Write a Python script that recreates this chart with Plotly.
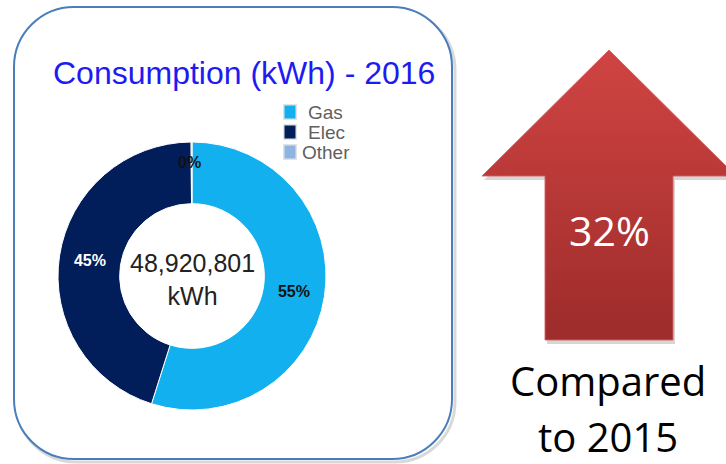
import math
import plotly.graph_objects as go

# ---- data ----
labels = ["Gas", "Elec", "Other"]
values = [26850000, 22020000, 50801]
slice_colors = ["#12b0ee", "#011e5b", "#8eb4e3"]
text_colors = ["#111111", "#ffffff", "#111111"]
title_text = "Consumption (kWh) - 2016"
unit = "kWh"
change_pct = "32%"
change_caption = ["Compared", "to 2015"]

total = sum(values)
W, H = 726, 464
PIE_CX, PIE_CY, PIE_R, HOLE = 192, 276, 134, 0.54


def rrect(x0, y0, x1, y1, r):
    k = 0.552 * r
    return (f"M {x0+r},{y0} L {x1-r},{y0} C {x1-r+k},{y0} {x1},{y0+r-k} {x1},{y0+r} "
            f"L {x1},{y1-r} C {x1},{y1-r+k} {x1-r+k},{y1} {x1-r},{y1} "
            f"L {x0+r},{y1} C {x0+r-k},{y1} {x0},{y1-r+k} {x0},{y1-r} "
            f"L {x0},{y0+r} C {x0},{y0+r-k} {x0+r-k},{y0} {x0+r},{y0} Z")


fig = go.Figure()

# arrow shadow + arrow (decoration)
ax = [609, 736, 673, 673, 545, 545, 482, 609]
ay = [50, 176, 176, 340, 340, 176, 176, 50]
fig.add_trace(go.Scatter(x=[v + 2 for v in ax], y=[v + 4 for v in ay], fill="toself",
                         fillcolor="rgba(0,0,0,0.16)", line=dict(width=0),
                         mode="lines", hoverinfo="skip", showlegend=False))
fig.add_trace(go.Scatter(x=ax, y=ay, fill="toself",
                         fillgradient=dict(type="vertical",
                                           colorscale=[[0, "#9d2c2a"], [1, "#d04443"]]),
                         line=dict(width=1, color="rgba(215,95,95,0.9)"),
                         mode="lines", hoverinfo="skip", showlegend=False))

# small slices get their label placed by hand along the slice bisector
fracs = [v / total for v in values]
small = [f < 0.02 for f in fracs]
templates = ["" if s else "%{percent:.0%}" for s in small]

fig.add_trace(go.Pie(
    labels=labels, values=values, hole=HOLE, sort=False, direction="clockwise",
    rotation=0,
    marker=dict(colors=slice_colors, line=dict(color="white", width=1)),
    texttemplate=templates, textposition="inside",
    insidetextorientation="horizontal",
    insidetextfont=dict(color=text_colors, size=16, family="Liberation Sans", weight=700),
    domain=dict(x=[(PIE_CX - PIE_R) / W, (PIE_CX + PIE_R) / W],
                y=[1 - (PIE_CY + PIE_R) / H, 1 - (PIE_CY - PIE_R) / H]),
    hoverinfo="skip", showlegend=False,
))

shapes = [
    dict(type="path", path=rrect(16, 10, 455, 462, 60), layer="below",
         line=dict(color="rgba(0,0,0,0.15)", width=3), fillcolor="rgba(0,0,0,0)"),
    dict(type="path", path=rrect(14, 7, 452, 459, 60), layer="below",
         line=dict(color="#4a7ebb", width=2), fillcolor="white"),
]
annotations = [
    dict(x=244, y=73, xref="x", yref="y", text=title_text, showarrow=False,
         font=dict(family="Liberation Sans", size=32, color="rgb(28,28,242)")),
    dict(x=PIE_CX, y=PIE_CY + 3, xref="x", yref="y", text=f"{total:,}<br>{unit}",
         showarrow=False, font=dict(family="Liberation Sans", size=25, color="#222222")),
    dict(x=609, y=230, xref="x", yref="y", text=change_pct, showarrow=False,
         font=dict(family="Open Sans", size=41, color="white")),
    dict(x=608, y=380, xref="x", yref="y", text=change_caption[0], showarrow=False,
         font=dict(family="Open Sans", size=40, color="black")),
    dict(x=608, y=436, xref="x", yref="y", text=change_caption[1], showarrow=False,
         font=dict(family="Open Sans", size=40, color="black")),
]

cum = 0.0
for f, s, tc in zip(fracs, small, text_colors):
    if s:
        ang = 2 * math.pi * (cum + f / 2)
        r = PIE_R * 0.845
        annotations.append(dict(x=PIE_CX + r * math.sin(ang) - 2, y=PIE_CY - r * math.cos(ang),
                                xref="x", yref="y", text=f"{round(f * 100)}%", showarrow=False,
                                font=dict(family="Liberation Sans", size=16, color=tc,
                                          weight=700)))
    cum += f

# legend built from the labels / colours
for i, (lab, col) in enumerate(zip(labels, slice_colors)):
    cy = 112 + 20 * i
    shapes.append(dict(type="rect", x0=283, x1=297, y0=cy - 8, y1=cy + 8,
                       xref="x", yref="y", fillcolor="#e3e3e3", line=dict(width=0)))
    shapes.append(dict(type="rect", x0=284.5, x1=295.5, y0=cy - 6.5, y1=cy + 6.5,
                       xref="x", yref="y", fillcolor=col, line=dict(width=0)))
    annotations.append(dict(x=(300 if len(lab) > 4 else 306), y=cy, xref="x", yref="y",
                            text=lab, showarrow=False, xanchor="left",
                            font=dict(family="Liberation Sans", size=19, color="#5f5f5f")))

fig.update_layout(
    width=W, height=H, margin=dict(l=0, r=0, t=0, b=0),
    paper_bgcolor="white", plot_bgcolor="rgba(0,0,0,0)",
    xaxis=dict(range=[0, W], visible=False, fixedrange=True),
    yaxis=dict(range=[H, 0], visible=False, fixedrange=True),
    uniformtext=dict(minsize=16, mode="show"),
    showlegend=False,
    shapes=shapes,
    annotations=annotations,
)

fig.write_html("out.html", config={"displayModeBar": False},
               post_script="document.body.style.margin='0';")
